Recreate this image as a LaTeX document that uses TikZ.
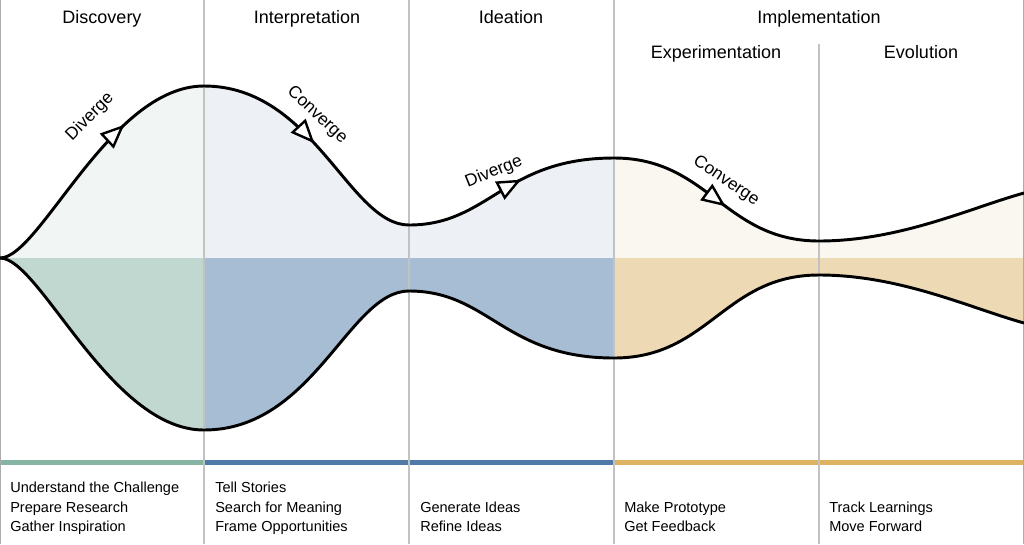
\documentclass[tikz,border=0pt]{standalone}
\usepackage{fontspec}
\setmainfont{Liberation Sans}
\usetikzlibrary{arrows.meta,decorations.markings}
\definecolor{upA}{HTML}{F1F5F4}
\definecolor{upB}{HTML}{EDF1F6}
\definecolor{upC}{HTML}{FAF7F0}
\definecolor{loA}{HTML}{C0D8D0}
\definecolor{loB}{HTML}{A7BDD3}
\definecolor{loC}{HTML}{EDD9B4}
\definecolor{barA}{HTML}{86B4A3}
\definecolor{barB}{HTML}{4F7AA8}
\definecolor{barC}{HTML}{DDB263}
\definecolor{divgray}{HTML}{C2C2C2}
\definecolor{bordergray}{HTML}{ABABAB}
\begin{document}
\begin{tikzpicture}[x=0.75pt,y=-0.75pt,
  head/.style={font=\fontsize{13.5}{16}\selectfont, anchor=base, inner sep=0pt},
  item/.style={font=\fontsize{10.9}{13}\selectfont, anchor=base west, inner sep=0pt},
  lbl/.style={font=\fontsize{13}{15}\selectfont, inner sep=0pt},
  divider/.style={draw=divgray, line width=0.8pt},
  border/.style={draw=bordergray, line width=1.2pt},
  bar/.style={line width=3.75pt},
  curve/.style={draw=black, line width=2.2pt},
  arrowmark/.style={decoration={markings, mark=at position #1 with {\arrow{Triangle[length=18pt,width=15pt,fill=white,line width=1.8pt]}}}, postaction={decorate}},
  uppath/.style={insert path={(u0) .. controls (40,258) and (110,86) .. (u1)
      .. controls (314,86) and (349,225) .. (u2)
      .. controls (489,225) and (504,158) .. (u3)
      .. controls (709,158) and (724,241) .. (u4)
      .. controls (900,241) and (970,208) .. (u5)}},
  lowpath/.style={insert path={(u0) .. controls (40,258) and (110,430) .. (l1)
      .. controls (314,430) and (349,291) .. (l2)
      .. controls (489,291) and (504,358) .. (l3)
      .. controls (709,358) and (724,275) .. (l4)
      .. controls (900,275) and (970,308) .. (l5)}},
]
\useasboundingbox (0,0) rectangle (1024,544);
\fill[white] (0,0) rectangle (1024,544);

% curve points
\coordinate (u0) at (0,258);
\coordinate (u1) at (204,86);
\coordinate (u2) at (409,225);
\coordinate (u3) at (614,158);
\coordinate (u4) at (819,241);
\coordinate (u5) at (1024,193);
\coordinate (l1) at (204,430);
\coordinate (l2) at (409,291);
\coordinate (l3) at (614,358);
\coordinate (l4) at (819,275);
\coordinate (l5) at (1024,323);
\coordinate (c5) at (1024,258);

% fills
\begin{scope}
  \clip (0,0) rectangle (204,544);
  \fill[upA, uppath] -- (c5) -- cycle;
  \fill[loA, lowpath] -- (c5) -- cycle;
\end{scope}
\begin{scope}
  \clip (204,0) rectangle (614,544);
  \fill[upB, uppath] -- (c5) -- cycle;
  \fill[loB, lowpath] -- (c5) -- cycle;
\end{scope}
\begin{scope}
  \clip (614,0) rectangle (1024,544);
  \fill[upC, uppath] -- (c5) -- cycle;
  \fill[loC, lowpath] -- (c5) -- cycle;
\end{scope}

% bottom bars
\draw[bar, barA] (0,462.5) -- (204,462.5);
\draw[bar, barB] (204,462.5) -- (614,462.5);
\draw[bar, barC] (614,462.5) -- (1024,462.5);

% dividers
\draw[divider] (204,0) -- (204,544);
\draw[divider] (409,0) -- (409,544);
\draw[divider] (614,0) -- (614,544);
\draw[divider] (819,44) -- (819,544);
\draw[border] (0.6,0) -- (0.6,544);
\draw[border] (1023.4,0) -- (1023.4,544);

% curves
\draw[curve, arrowmark=0.67] (u0) .. controls (40,258) and (110,86) .. (u1);
\draw[curve, arrowmark=0.50] (u1) .. controls (314,86) and (349,225) .. (u2);
\draw[curve, arrowmark=0.56] (u2) .. controls (489,225) and (504,158) .. (u3);
\draw[curve, arrowmark=0.55] (u3) .. controls (709,158) and (724,241) .. (u4);
\draw[curve] (u4) .. controls (900,241) and (970,208) .. (u5);
\draw[curve, lowpath];

% curve labels
\node[lbl, rotate=45] (d1) at (90,117) {Diverge};
\node[lbl, rotate=-43] (c1) at (317,115) {Converge};
\node[lbl, rotate=22] (d2) at (494,172) {Diverge};
\node[lbl, rotate=-34] (c2) at (726,181) {Converge};

% headers
\node[head] (h1) at (102,23) {Discovery};
\node[head] (h2) at (307,23) {Interpretation};
\node[head] (h3) at (511,23) {Ideation};
\node[head] (h4) at (819,23) {Implementation};
\node[head] (h5) at (716,58) {Experimentation};
\node[head] (h6) at (921,58) {Evolution};

% bottom items
\node[item] (a1) at (10,492.5) {Understand the Challenge};
\node[item] (a2) at (10,512) {Prepare Research};
\node[item] (a3) at (10,531) {Gather Inspiration};
\node[item] (b1) at (215,492.5) {Tell Stories};
\node[item] (b2) at (215,512) {Search for Meaning};
\node[item] (b3) at (215,531) {Frame Opportunities};
\node[item] (e1) at (420,512) {Generate Ideas};
\node[item] (e2) at (420,531) {Refine Ideas};
\node[item] (f1) at (624,512) {Make Prototype};
\node[item] (f2) at (624,531) {Get Feedback};
\node[item] (g1) at (829,512) {Track Learnings};
\node[item] (g2) at (829,531) {Move Forward};
\end{tikzpicture}
\end{document}
